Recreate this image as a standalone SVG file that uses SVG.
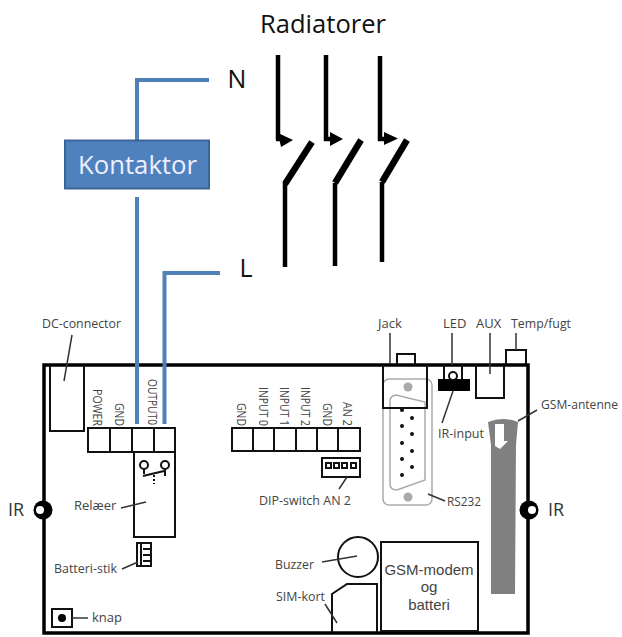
<svg xmlns="http://www.w3.org/2000/svg" width="622" height="637" viewBox="0 0 622 637">
<style>
text{font-family:"Open Sans","Noto Sans","Liberation Sans",sans-serif}
.big{font-size:25px;fill:#111}
.lab{font-size:13px;fill:#444}
.labv{font-size:13px;fill:#444}
.gsmt{font-family:"Liberation Sans",Arial,sans-serif;font-size:15px;fill:#444;text-anchor:middle}
.k{fill:none;stroke:#111;stroke-width:2}
.b{fill:none;stroke:#000;stroke-width:3.5}
.ln{fill:none;stroke:#333;stroke-width:1.5}
.sw{fill:none;stroke:#000;stroke-width:4.500}
.sw2{fill:none;stroke:#000;stroke-width:6.500}
.wire{fill:none;stroke:#4f81b6;stroke-width:4}
.g{fill:none;stroke:#aaa;stroke-width:1.5}
</style>
<rect width="622" height="637" fill="#fff"/>
<text class="big" x="260" y="33" textLength="126" lengthAdjust="spacingAndGlyphs">Radiatorer</text>
<text class="big" x="237" y="88" text-anchor="middle">N</text>
<text class="big" x="246" y="277" text-anchor="middle">L</text>
<g id="board">
<path class="b" d="M528 365H44V633H528Z"/>
<path class="k" d="M50 366V431H84V366"/>
</g>
<g id="switches">
<path class="sw" d="M278 55V140M285 267V183"/><path class="sw2" d="M285 184L312 142"/><path d="M278 133L293 140L281 147Z"/><path class="sw" d="M276 139H284"/>
<path class="sw" d="M326 55V139H336M335 266V183"/><path class="sw2" d="M335 183L361 140"/><path d="M330 132L343 139L330 146Z"/>
<path class="sw" d="M380 56V139H390M382 262V182"/><path class="sw2" d="M382 182L407 140"/><path d="M384 132L398 138.500L384 145Z"/>
</g>
<g id="terminal-left">
<path class="k" d="M88 428H175V452H88ZM110 428V452M132 428V452M154 428V452"/>
<text class="labv" transform="translate(93,426) rotate(90)" x="-37" y="0" textLength="37" lengthAdjust="spacingAndGlyphs">POWER</text>
<text class="labv" transform="translate(115,426) rotate(90)" x="-23" y="0" textLength="23" lengthAdjust="spacingAndGlyphs">GND</text>
<text class="labv" transform="translate(148,425) rotate(90)" x="-46" y="0" textLength="46" lengthAdjust="spacingAndGlyphs">OUTPUT0</text>
</g>
<g id="relay">
<rect class="k" x="134" y="452" width="41" height="85"/>
<circle class="k" cx="144" cy="465" r="4"/><circle class="k" cx="165" cy="465" r="4"/>
<path class="k" d="M144 469V474M165 469V476M143 476L164 471"/><path class="k" stroke-dasharray="2 2" d="M154 475V484"/>
<text class="lab" x="74" y="510">Relæer</text><path class="ln" d="M121 508L146 502"/>
</g>
<g id="batteri">
<path class="k" d="M137 543H151V566H137ZM143 549H151M143 555H151M143 561H151M141 544V565"/>
<text class="lab" x="54" y="573" textLength="63" lengthAdjust="spacingAndGlyphs">Batteri-stik</text><path class="ln" d="M122 569L138 562"/>
</g>
<g id="knap">
<rect class="k" x="52" y="609" width="20" height="18"/><circle cx="62" cy="618" r="4"/>
<path class="ln" d="M72 618H88"/><text class="lab" x="92" y="622">knap</text>
</g>
<g id="dc"><text class="lab" x="42" y="328" textLength="79" lengthAdjust="spacingAndGlyphs">DC-connector</text><path class="ln" d="M72 335L64 381"/></g>
<g id="terminal-right">
<path class="k" d="M232 428H360V451H232ZM253 428V451M274 428V451M296 428V451M317 428V451M338 428V451"/>
<text class="labv" transform="translate(237,426) rotate(90)" x="-23" y="0" textLength="23" lengthAdjust="spacingAndGlyphs">GND</text>
<text class="labv" transform="translate(259,426) rotate(90)" x="-39" y="0" textLength="39" lengthAdjust="spacingAndGlyphs">INPUT 0</text>
<text class="labv" transform="translate(280,426) rotate(90)" x="-39" y="0" textLength="39" lengthAdjust="spacingAndGlyphs">INPUT 1</text>
<text class="labv" transform="translate(301,426) rotate(90)" x="-39" y="0" textLength="39" lengthAdjust="spacingAndGlyphs">INPUT 2</text>
<text class="labv" transform="translate(323,426) rotate(90)" x="-23" y="0" textLength="23" lengthAdjust="spacingAndGlyphs">GND</text>
<text class="labv" transform="translate(343,426) rotate(90)" x="-24" y="0" textLength="24" lengthAdjust="spacingAndGlyphs">AN 2</text>
</g>
<g id="dip">
<rect x="322" y="458" width="38" height="19" fill="#fff" stroke="#111" stroke-width="2"/>
<path class="k" stroke-width="1.500" d="M326 463h5v5h-5zM334 463h5v5h-5zM342 463h5v5h-5zM351 463h5v5h-5z"/>
<path class="ln" d="M339 489L347 477"/>
<text class="lab" x="259" y="505" textLength="92" lengthAdjust="spacingAndGlyphs">DIP-switch AN 2</text>
</g>
<g id="rs232">
<rect class="g" x="383" y="379" width="49" height="126" rx="6"/>
<path class="g" d="M390 401Q390 396 396 395L425 402V480L397 490Q390 490 390 484Z"/>
<circle cx="408" cy="387" r="4.500" fill="#aaa"/><circle cx="408" cy="497" r="4.500" fill="#aaa"/>
<g fill="#111"><circle cx="402" cy="410" r="2"/><circle cx="402" cy="426" r="2"/><circle cx="402" cy="443" r="2"/><circle cx="402" cy="459" r="2"/><circle cx="402" cy="475" r="2"/><circle cx="412" cy="418" r="2"/><circle cx="412" cy="434" r="2"/><circle cx="412" cy="451" r="2"/><circle cx="412" cy="467" r="2"/></g>
<path class="ln" d="M428 494L445 501"/><text class="lab" x="447" y="506" textLength="34" lengthAdjust="spacingAndGlyphs">RS232</text>
</g>
<g id="jack">
<path class="k" d="M383 365V408H427V365M397 364V354H415V364"/><path class="ln" d="M390 333V364"/>
<text class="lab" x="378" y="328">Jack</text>
</g>
<g id="led">
<path class="k" d="M444 365V380M462 365V380"/><rect x="438" y="379" width="32" height="12"/>
<circle cx="453" cy="376" r="4" fill="none" stroke="#111" stroke-width="2"/>
<path class="ln" d="M452 333V365M453 391L442 423"/>
<text class="lab" x="443" y="328">LED</text><text class="lab" x="438" y="438" textLength="46" lengthAdjust="spacingAndGlyphs">IR-input</text>
</g>
<g id="aux"><path class="k" d="M476 365V398H504V365"/><path class="ln" d="M490 333V374"/><text class="lab" x="476" y="328">AUX</text></g>
<g id="temp"><path class="k" d="M506 364V350H526V364"/><path class="ln" d="M516 333V350"/><text class="lab" x="511" y="328" textLength="60" lengthAdjust="spacingAndGlyphs">Temp/fugt</text></g>
<g id="antenna">
<path d="M488 422Q503 416 518 422L516 445L515 594H491V445Z" fill="#808080"/>
<path d="M495 424H504V441L508 441L500 449L495 446Z" fill="#fff"/>
<path class="ln" d="M518 421L537 410"/><text x="541" y="409" font-size="12" fill="#444" textLength="77" lengthAdjust="spacingAndGlyphs">GSM-antenne</text>
</g>
<g id="ir-left"><circle cx="43" cy="510" r="9.500" fill="#000"/><circle cx="40" cy="510" r="4" fill="#fff"/><text x="8" y="516" font-size="18" fill="#333">IR</text></g>
<g id="ir-right"><circle cx="529" cy="510" r="9.500" fill="#000"/><circle cx="532" cy="510" r="4" fill="#fff"/><text x="548" y="516" font-size="18" fill="#333">IR</text></g>
<g id="buzzer"><circle class="k" cx="358" cy="557" r="20"/><path class="ln" d="M322 562L357 556"/><text class="lab" x="275" y="569" textLength="39" lengthAdjust="spacingAndGlyphs">Buzzer</text></g>
<g id="sim"><path class="k" d="M332 632V594L347 584H377V632"/><path class="ln" d="M325 604L337 623"/><text class="lab" x="276" y="601" textLength="49" lengthAdjust="spacingAndGlyphs">SIM-kort</text></g>
<g id="gsm"><rect class="k" x="381" y="542" width="97" height="89"/>
<text class="gsmt" x="429" y="575">GSM-modem</text><text class="gsmt" x="429" y="592">og</text><text class="gsmt" x="429" y="610">batteri</text></g>
<g id="connectors">
<path class="wire" d="M209 80H137V140M137 197V424M220 273H164.500V424"/>
</g>
<g id="kontaktor"><rect x="65" y="140.500" width="144" height="48" fill="#4f81bd" stroke="#3b6597" stroke-width="2"/>
<text x="78" y="174" textLength="119" lengthAdjust="spacingAndGlyphs" font-size="25" fill="#eef">Kontaktor</text></g>
</svg>
